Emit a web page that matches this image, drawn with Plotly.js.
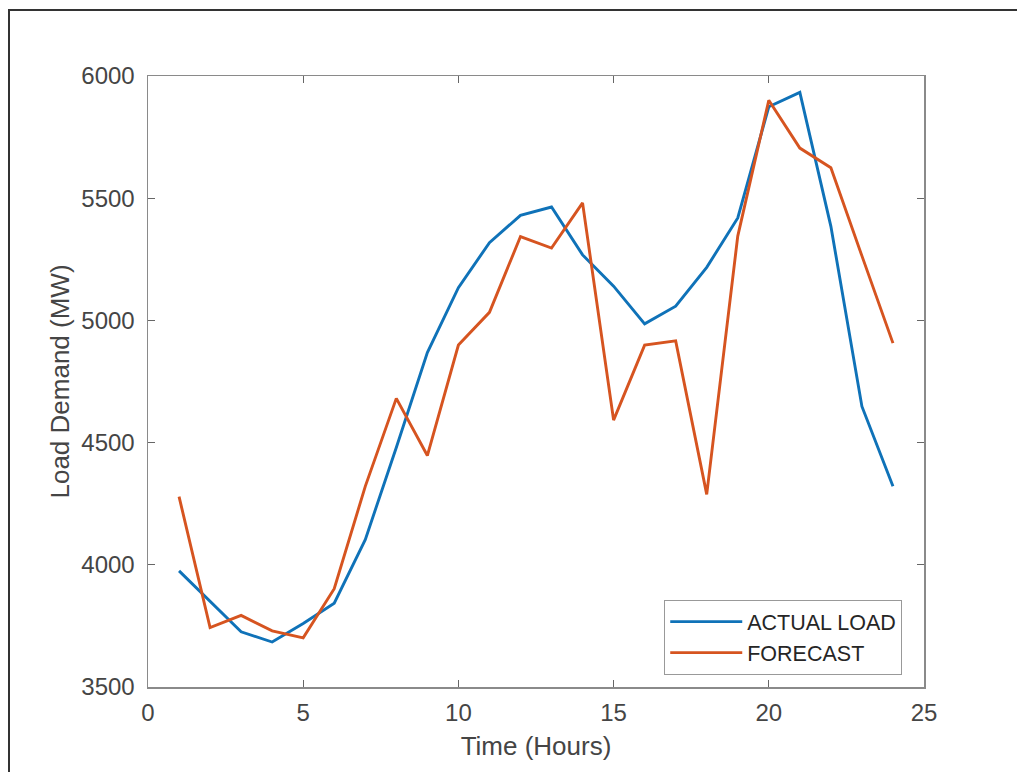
<!DOCTYPE html>
<html>
<head>
<meta charset="utf-8">
<script src="https://cdn.plot.ly/plotly-3.0.1.min.js"></script>
<style>
html,body{margin:0;padding:0;background:#fff;}
#wrap{position:relative;width:1017px;height:772px;}
#chart{position:absolute;left:0;top:0;width:1017px;height:772px;}
#frame{position:absolute;left:8px;top:9px;width:1030px;height:800px;border-left:2px solid #333;border-top:2px solid #333;pointer-events:none;}
</style>
</head>
<body>
<div id="wrap"><div id="chart"></div><div id="frame"></div></div>
<script>
const hours = [1,2,3,4,5,6,7,8,9,10,11,12,13,14,15,16,17,18,19,20,21,22,23,24];
const actualLoad = [3975,3852,3726,3684,3760,3843,4103,4480,4868,5134,5318,5430,5464,5268,5140,4986,5058,5217,5419,5874,5933,5385,4648,4321];
const forecast = [4279,3743,3793,3730,3701,3902,4321,4681,4447,4899,5033,5343,5296,5481,4592,4899,4916,4288,5345,5901,5705,5625,5264,4907];
const xTicks = [0,5,10,15,20,25];
const yTicks = [3500,4000,4500,5000,5500,6000];

const fontFam = 'Liberation Sans, Arial, sans-serif';
const traces = [
  {x: hours, y: actualLoad, name: 'ACTUAL LOAD', mode: 'lines', line: {color: '#0f72b8', width: 2.9}},
  {x: hours, y: forecast, name: 'FORECAST', mode: 'lines', line: {color: '#d65420', width: 2.9}}
];
const axisCommon = {
  showgrid: false, zeroline: false, showline: true, linecolor: '#8a8a8a', linewidth: 1.5,
  mirror: 'ticks', ticks: 'inside', ticklen: 7, tickcolor: '#666', tickwidth: 1,
  tickfont: {family: fontFam, size: 24, color: '#454545'}
};
const layout = {
  width: 1017, height: 772,
  margin: {l: 148, r: 93, t: 76, b: 85},
  paper_bgcolor: '#fff', plot_bgcolor: '#fff',
  showlegend: true,
  legend: {
    x: 0.665, y: 0.1424, xanchor: 'left', yanchor: 'top',
    bgcolor: '#fff', bordercolor: '#999', borderwidth: 1.2,
    font: {family: fontFam, size: 21.5, color: '#262626'},
    itemwidth: 72, tracegroupgap: 0
  },
  xaxis: Object.assign({}, axisCommon, {
    range: [0, 25], tickvals: xTicks, ticktext: xTicks.map(String),
    ticklabelstandoff: 4,
    title: {text: 'Time (Hours)', font: {family: fontFam, size: 26, color: '#454545'}, standoff: 11}
  }),
  yaxis: Object.assign({}, axisCommon, {
    range: [3500, 6000], tickvals: yTicks, ticktext: yTicks.map(String),
    ticklabelstandoff: 7,
    title: {text: 'Load Demand (MW)', font: {family: fontFam, size: 26, color: '#454545'}, standoff: 4}
  })
};
Plotly.newPlot('chart', traces, layout, {displayModeBar: false, staticPlot: true});
</script>
</body>
</html>
